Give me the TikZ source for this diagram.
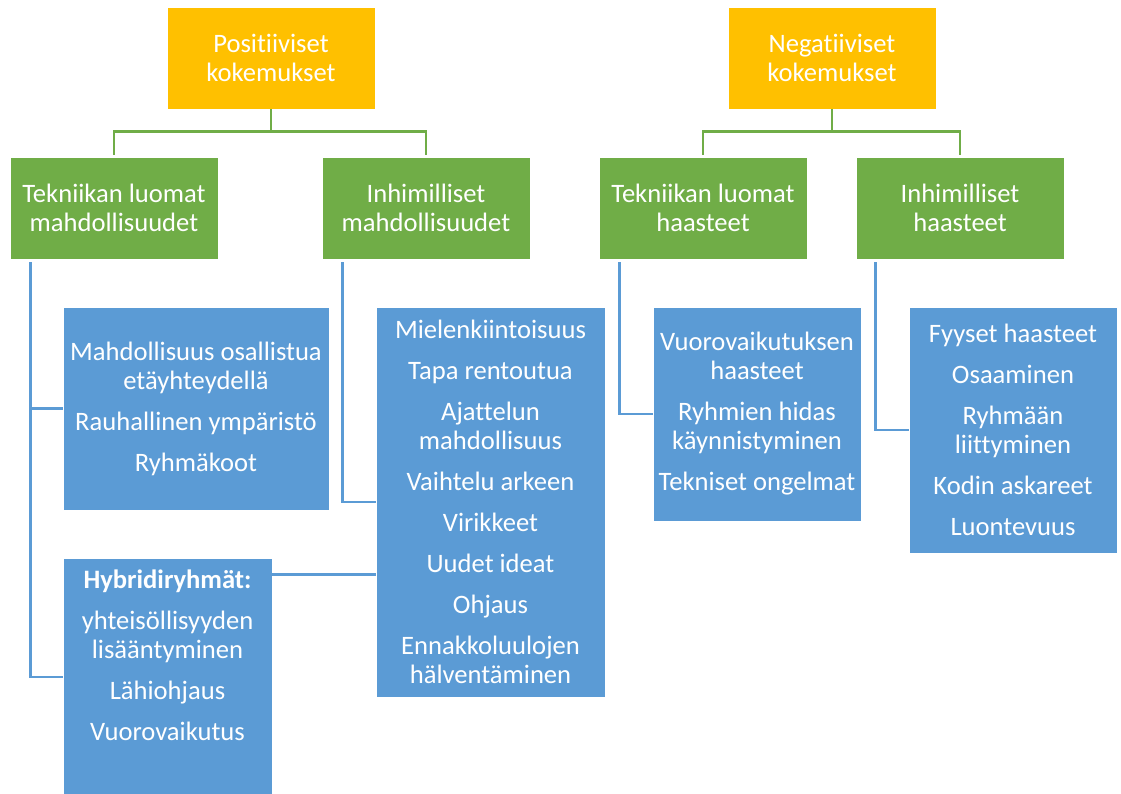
\documentclass[tikz,border=0pt]{standalone}
\usepackage{fontspec}
\setmainfont{Carlito}[Ligatures=NoCommon]
\definecolor{topgold}{HTML}{FFC000}
\definecolor{midgreen}{HTML}{70AD47}
\definecolor{leafblue}{HTML}{5B9BD5}
\begin{document}
\begin{tikzpicture}[
        x=1pt, y=-1pt,
        font=\fontsize{26.6}{29}\selectfont, text=white,
        head/.style={rectangle, fill=topgold, draw=white, line width=0.8pt, align=center, minimum width=208pt, minimum height=102pt, inner sep=0pt},
        branch/.style={head, fill=midgreen},
        leaf/.style={rectangle, fill=leafblue, draw=white, line width=0.8pt, align=center, inner sep=0pt},
        tree/.style={draw=midgreen, line width=2.5pt},
        link/.style={draw=leafblue, line width=2.5pt}
    ]
        \useasboundingbox (0,0) rectangle (1121,794);
        \clip (0,0) rectangle (1121,794);

        \node[head] (pos) at (271,58) {Positiiviset\\kokemukset};
        \node[head] (neg) at (832,58) {Negatiiviset\\kokemukset};

        \node[branch] (tlm) at (114,208) {Tekniikan luomat\\mahdollisuudet};
        \node[branch] (ihm) at (426,208) {Inhimilliset\\mahdollisuudet};
        \node[branch] (tlh) at (703,208) {Tekniikan luomat\\haasteet};
        \node[branch] (ihh) at (960,208) {Inhimilliset\\haasteet};

        \draw[tree] (pos.south) -- ++(0,22) -| ([yshift=2pt]tlm.north);
        \draw[tree] (pos.south) -- ++(0,22) -| ([yshift=2pt]ihm.north);
        \draw[tree] (neg.south) -- ++(0,22) -| ([yshift=2pt]tlh.north);
        \draw[tree] (neg.south) -- ++(0,22) -| ([yshift=2pt]ihh.north);

        \node[leaf, minimum width=266pt, minimum height=203pt] (mahd) at (196,408.5)
            {Mahdollisuus osallistua\\etäyhteydellä\\[12pt]Rauhallinen ympäristö\\[12pt]Ryhmäkoot};
        \node[leaf, minimum width=229pt, minimum height=390pt] (inh) at (490.5,502)
            {Mielenkiintoisuus\\[12pt]Tapa rentoutua\\[12pt]Ajattelun\\mahdollisuus\\[12pt]Vaihtelu arkeen\\[12pt]Virikkeet\\[12pt]Uudet ideat\\[12pt]Ohjaus\\[12pt]Ennakkoluulojen\\hälventäminen};
        \node[leaf, minimum width=209pt, minimum height=238pt] (hyb) at (167.5,677) {};
        \node[anchor=north, align=center, inner sep=0pt] (hybtext) at ([yshift=-12pt]hyb.north)
            {\textbf{Hybridiryhmät:}\\[12pt]yhteisöllisyyden\\lisääntyminen\\[12pt]Lähiohjaus\\[12pt]Vuorovaikutus};
        \node[leaf, minimum width=208pt, minimum height=214pt] (vuor) at (757,414)
            {Vuorovaikutuksen\\haasteet\\[12pt]Ryhmien hidas\\käynnistyminen\\[12pt]Tekniset ongelmat};
        \node[leaf, minimum width=208pt, minimum height=246pt] (fyys) at (1013,430)
            {Fyyset haasteet\\[12pt]Osaaminen\\[12pt]Ryhmään\\liittyminen\\[12pt]Kodin askareet\\[12pt]Luontevuus};

        \draw[link] ([xshift=21pt,yshift=-3pt]tlm.south west) |- (mahd.west);
        \draw[link] ([xshift=21pt,yshift=-3pt]tlm.south west) |- (hyb.west);
        \draw[link] ([xshift=21pt,yshift=-3pt]ihm.south west) |- (inh.west);
        \draw[link] ([yshift=-17pt]hyb.north east) -- ([yshift=-17pt]hyb.north east -| inh.west);
        \draw[link] ([xshift=21pt,yshift=-3pt]tlh.south west) |- (vuor.west);
        \draw[link] ([xshift=20pt,yshift=-3pt]ihh.south west) |- (fyys.west);
    \end{tikzpicture}
\end{document}
